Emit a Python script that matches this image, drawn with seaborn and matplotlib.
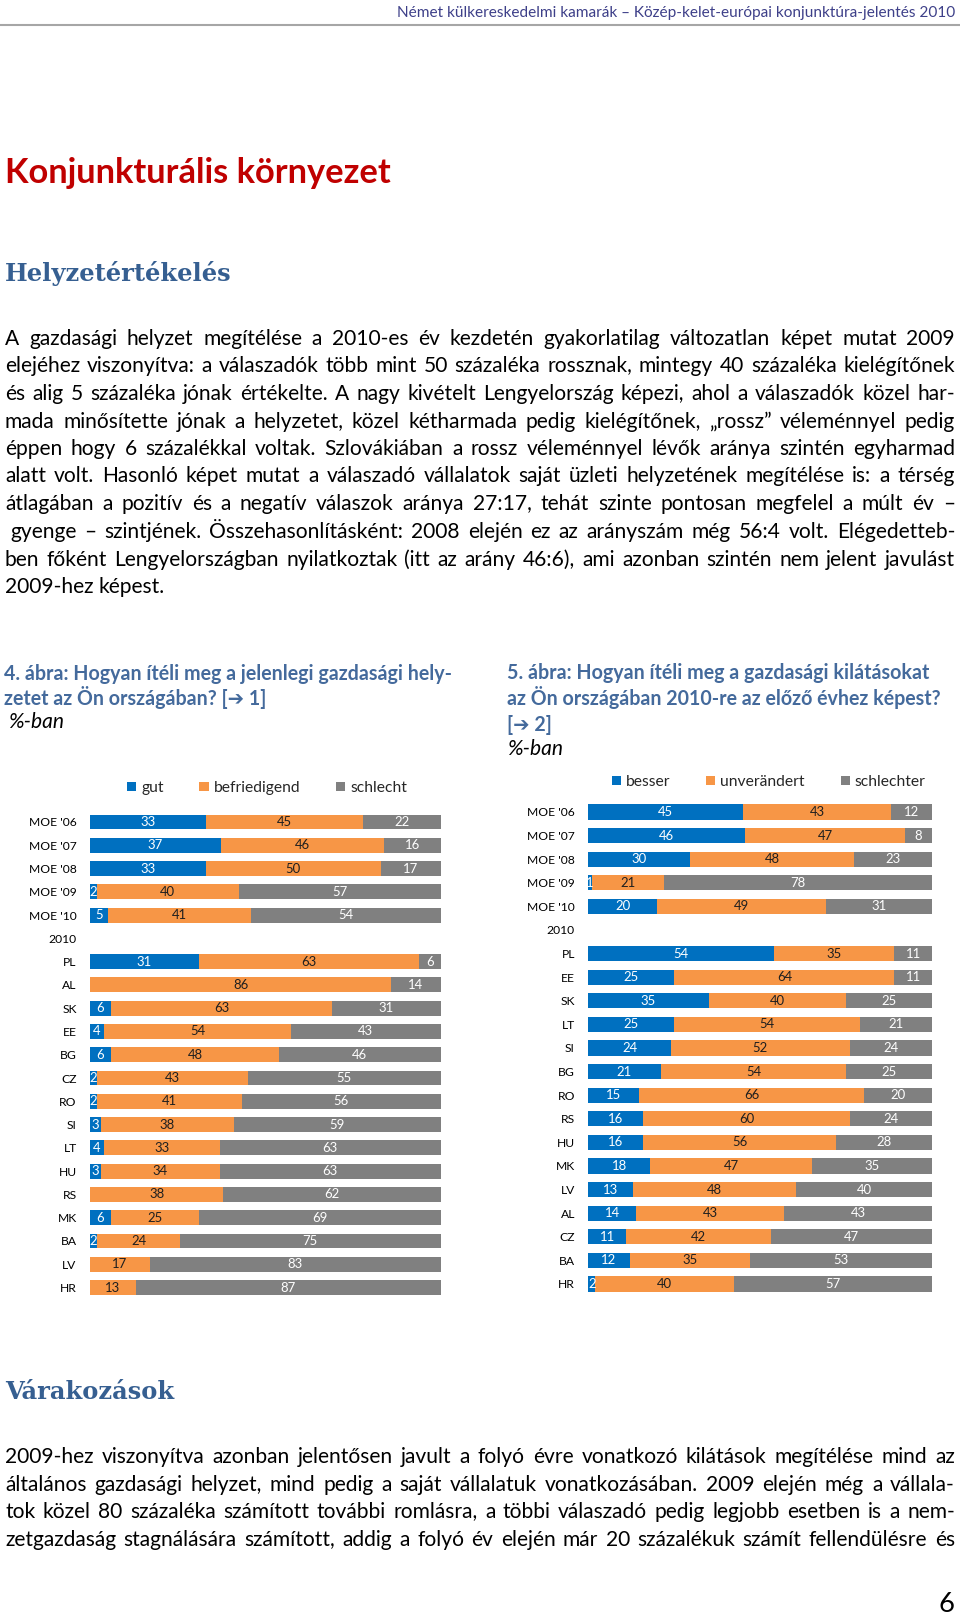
import math
import numpy as np
import pandas as pd
import matplotlib
matplotlib.use("Agg")
import matplotlib.pyplot as plt
from matplotlib.font_manager import FontProperties, findfont
from matplotlib.lines import Line2D
import seaborn as sns

# ---------------- data ----------------
cats_now = ["MOE '06", "MOE '07", "MOE '08", "MOE '09", "MOE '10", "2010",
            "PL", "AL", "SK", "EE", "BG", "CZ", "RO", "SI", "LT", "HU", "RS", "MK", "BA", "LV", "HR"]
gut = [33, 37, 33, 2, 5, None, 31, 0, 6, 4, 6, 2, 2, 3, 4, 3, 0, 6, 2, 0, 0]
befriedigend = [45, 46, 50, 40, 41, None, 63, 86, 63, 54, 48, 43, 41, 38, 33, 34, 38, 25, 24, 17, 13]
schlecht = [22, 16, 17, 57, 54, None, 6, 14, 31, 43, 46, 55, 56, 59, 63, 63, 62, 69, 75, 83, 87]
legend_now = ["gut", "befriedigend", "schlecht"]

cats_out = ["MOE '06", "MOE '07", "MOE '08", "MOE '09", "MOE '10", "2010",
            "PL", "EE", "SK", "LT", "SI", "BG", "RO", "RS", "HU", "MK", "LV", "AL", "CZ", "BA", "HR"]
besser = [45, 46, 30, 1, 20, None, 54, 25, 35, 25, 24, 21, 15, 16, 16, 18, 13, 14, 11, 12, 2]
unveraendert = [43, 47, 48, 21, 49, None, 35, 64, 40, 54, 52, 54, 66, 60, 56, 47, 48, 43, 42, 35, 40]
schlechter = [12, 8, 23, 78, 31, None, 11, 11, 25, 21, 24, 25, 20, 24, 28, 35, 40, 43, 47, 53, 57]
legend_out = ["besser", "unverändert", "schlechter"]

header_text = "Német külkereskedelmi kamarák – Közép-kelet-európai konjunktúra-jelentés 2010"
h1_text = "Konjunkturális környezet"
h2a_text = "Helyzetértékelés"
h2b_text = "Várakozások"
para1 = [
    "A gazdasági helyzet megítélése a 2010-es év kezdetén gyakorlatilag változatlan képet mutat 2009",
    "elejéhez viszonyítva: a válaszadók több mint 50 százaléka rossznak, mintegy 40 százaléka kielégítőnek",
    "és alig 5 százaléka jónak értékelte. A nagy kivételt Lengyelország képezi, ahol a válaszadók közel har-",
    "mada minősítette jónak a helyzetet, közel kétharmada pedig kielégítőnek, „rossz” véleménnyel pedig",
    "éppen hogy 6 százalékkal voltak. Szlovákiában a rossz véleménnyel lévők aránya szintén egyharmad",
    "alatt volt. Hasonló képet mutat a válaszadó vállalatok saját üzleti helyzetének megítélése is: a térség",
    "átlagában a pozitív és a negatív válaszok aránya 27:17, tehát szinte pontosan megfelel a múlt év –",
    "gyenge – szintjének. Összehasonlításként: 2008 elején ez az arányszám még 56:4 volt. Elégedetteb-",
    "ben főként Lengyelországban nyilatkoztak (itt az arány 46:6), ami azonban szintén nem jelent javulást",
    "2009-hez képest.",
]
para2 = [
    "2009-hez viszonyítva azonban jelentősen javult a folyó évre vonatkozó kilátások megítélése mind az",
    "általános gazdasági helyzet, mind pedig a saját vállalatuk vonatkozásában. 2009 elején még a vállala-",
    "tok közel 80 százaléka számított további romlásra, a többi válaszadó pedig legjobb esetben is a nem-",
    "zetgazdaság stagnálására számított, addig a folyó év elején már 20 százalékuk számít fellendülésre és",
]
title4 = ["4. ábra: Hogyan ítéli meg a jelenlegi gazdasági hely-", "zetet az Ön országában? [➔ 1]"]
title5 = ["5. ábra: Hogyan ítéli meg a gazdasági kilátásokat",
          "az Ön országában 2010-re az előző évhez képest?", "[➔ 2]"]
unit_text = "%-ban"
page_no = "6"

# ---------------- style ----------------
W, H, DPI = 960, 1616, 100
BLUE, ORANGE, GRAY = "#0070C0", "#F79646", "#808080"
TITLE_C = "#446A9C"
HEAD_C = "#365F91"


def has_font(name):
    try:
        findfont(FontProperties(family=name), fallback_to_default=False)
        return True
    except Exception:
        return False


MAIN = next((f for f in ["Lato", "Open Sans", "Noto Sans", "Liberation Sans"] if has_font(f)), "DejaVu Sans")
FAM = [MAIN, "DejaVu Sans"]
SERIF = ["DejaVu Serif"]

sns.set_style("white")
plt.rcParams["font.family"] = FAM

fig = plt.figure(figsize=(W / DPI, H / DPI), dpi=DPI)
fig.patch.set_facecolor("white")
renderer = fig.canvas.get_renderer()

try:
    from matplotlib.backends.backend_agg import get_hinting_flag
except Exception:
    get_hinting_flag = None


def fprop(size, family=None, weight="normal", style="normal"):
    return FontProperties(family=family or FAM, size=size, weight=weight, style=style)


def twidth(s, prop):
    w, h, d = renderer.get_text_width_height_descent(s, prop, ismath=False)
    return w


def baseline_shift(s, prop, ybase):
    """Per-word y so that the rasterised glyph baselines line up exactly."""
    try:
        font = renderer._prepare_font(prop)
        font.set_text(s, 0, flags=get_hinting_flag())
        d = font.get_descent() / 64.0
        h = font.get_width_height()[1] / 64.0
        a = h - d
        c = math.floor(a) - math.floor(a + d)
        target = round(ybase)
        return target - c - d
    except Exception:
        return ybase


def fit(s, target, family=None, weight="normal", style="normal"):
    return 10.0 * target / twidth(s, fprop(10, family, weight, style))


def fx(x):
    return x / W


def fy(y):
    return 1 - y / H


def put(s, x, ybase, size, family=None, weight="normal", style="normal", color="black", ha="left"):
    fig.text(fx(x), fy(ybase), s, fontproperties=fprop(size, family, weight, style),
             color=color, ha=ha, va="baseline")


def put_justified(s, x0, x1, ybase, size, color="black", justify=True):
    p = fprop(size)
    words = s.split()
    ws = [twidth(w, p) for w in words]
    space = twidth("a a", p) - twidth("aa", p)
    gap = (x1 - x0 - sum(ws)) / (len(words) - 1) if (justify and len(words) > 1) else space
    x = x0
    for w, wd in zip(words, ws):
        yb = baseline_shift(w, p, ybase)
        fig.text(fx(x), fy(yb), w, fontproperties=p, color=color, ha="left", va="baseline")
        x += wd + gap


# ---------------- header & headings ----------------
put(header_text, 955, 17.5, fit(header_text, 560), color="#3E4089", ha="right")
fig.add_artist(Line2D([0, 1], [fy(24.5), fy(24.5)], transform=fig.transFigure, color="#A6A6A6", lw=1.5))
put(h1_text, 5, 183, fit(h1_text, 387, weight="bold"), weight="bold", color="#C00000")
hs = fit(h2a_text, 226, family=SERIF, weight="bold")
put(h2a_text, 5, 281, hs, family=SERIF, weight="bold", color=HEAD_C)
put(h2b_text, 5, 1399, hs, family=SERIF, weight="bold", color=HEAD_C)

# ---------------- body text ----------------
p10 = fprop(10)
nat = max(twidth(" ".join(l.split()), p10) for l in para1[:-1] + para2)
body_size = min(max(10 * 0.985 * 950 / nat, 11), 15.5)

base1 = [345, 372.5, 400, 427.5, 455, 482.5, 510.5, 538, 566, 593]
for i, (line, yb) in enumerate(zip(para1, base1)):
    x0 = 10 if i == 7 else 5
    put_justified(line, x0, 955, yb, body_size, justify=(i < len(para1) - 1))
base2 = [1463, 1491, 1518, 1546]
for line, yb in zip(para2, base2):
    put_justified(line, 5, 955, yb, body_size)

put(page_no, 955, 1612, body_size * 1.3, ha="right")

# ---------------- chart titles ----------------
ts = 0.5 * (fit(title4[0], 448, weight="bold") + fit(title5[0], 421, weight="bold"))
for line, yb in zip(title4, [680, 705]):
    put(line, 4, yb, ts, weight="bold", color=TITLE_C)
put(unit_text, 8, 728, body_size, style="italic")
for line, yb in zip(title5, [679, 705, 731]):
    put(line, 507, yb, ts, weight="bold", color=TITLE_C)
put(unit_text, 507, 755, body_size, style="italic")

# ---------------- charts ----------------
lab_size = fit("MOE '06", 47.4)
val_size = lab_size * 1.08
leg_size = fit("befriedigend", 87)


def stacked(ax, cats, a, b, c, names, legend_xy):
    df = pd.DataFrame({"cat": cats, "a": a, "b": b, "c": c}).dropna()
    vals = df[["a", "b", "c"]].astype(float)
    tot = vals.sum(axis=1)
    df["c1"] = vals["a"] / tot
    df["c2"] = (vals["a"] + vals["b"]) / tot
    df["c3"] = tot / tot
    for col, colr, nm in [("c3", GRAY, names[2]), ("c2", ORANGE, names[1]), ("c1", BLUE, names[0])]:
        sns.barplot(data=df, x=col, y="cat", order=cats, orient="h", color=colr, saturation=1,
                    width=0.64, errorbar=None, label=nm, linewidth=0, ax=ax)
    pos = {ct: i for i, ct in enumerate(cats)}
    for idx, r in df.iterrows():
        start = 0.0
        for key, tc in zip(["a", "b", "c"], ["white", "#1F1F1F", "white"]):
            v = float(r[key])
            share = v / tot[idx]
            if v > 0:
                ax.text(start + share / 2, pos[r["cat"]], f"{int(v)}", ha="center", va="center",
                        fontsize=val_size, color=tc)
            start += share
    ax.set_xlim(0, 1)
    ax.set_ylim(len(cats) - 0.5, -0.5)
    ax.set_xlabel("")
    ax.set_ylabel("")
    ax.set_xticks([])
    for sp in ax.spines.values():
        sp.set_visible(False)
    ax.tick_params(axis="y", length=0, pad=9.6, labelsize=lab_size, labelcolor="black")
    ax.set_facecolor("none")
    hdl, lbl = ax.get_legend_handles_labels()
    order = [lbl.index(n) for n in names]
    ax.legend([hdl[i] for i in order], [lbl[i] for i in order], ncol=3, loc="center",
              bbox_to_anchor=(fx(legend_xy[0]), fy(legend_xy[1])), bbox_transform=fig.transFigure,
              frameon=False, fontsize=leg_size, handlelength=0.6, handleheight=0.6,
              handletextpad=0.3, columnspacing=2.3, borderpad=0, borderaxespad=0)


sp1 = (1287.5 - 822) / 20
top1, bot1 = 822 - sp1 / 2, 1287.5 + sp1 / 2
ax1 = fig.add_axes([fx(90), fy(bot1), (440.5 - 90) / W, (bot1 - top1) / H])
stacked(ax1, cats_now, gut, befriedigend, schlecht, legend_now, (267, 788))

sp2 = (1284 - 812) / 20
top2, bot2 = 812 - sp2 / 2, 1284 + sp2 / 2
ax2 = fig.add_axes([fx(588.3), fy(bot2), (932.3 - 588.3) / W, (bot2 - top2) / H])
stacked(ax2, cats_out, besser, unveraendert, schlechter, legend_out, (768.5, 782))

fig.savefig("out.png", dpi=DPI, facecolor="white")
